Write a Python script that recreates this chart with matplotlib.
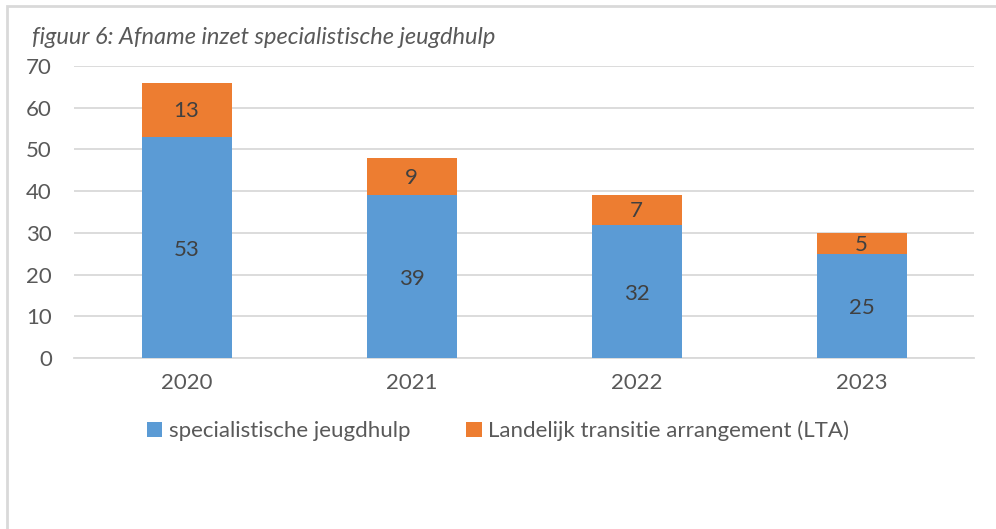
import numpy as np
import matplotlib.pyplot as plt
from matplotlib.patches import Rectangle

# Data
years = ['2020', '2021', '2022', '2023']
specialistisch = [53, 39, 32, 25]
lta = [13, 9, 7, 5]

blue = '#5B9BD5'
orange = '#ED7D31'
text_grey = '#595959'
grid_grey = '#D9D9D9'

plt.rcParams['font.family'] = ['Lato', 'DejaVu Sans']
fs = 16

fig = plt.figure(figsize=(9.96, 5.29), dpi=100)
ax = fig.add_axes([74 / 996, 1 - 358 / 529, 900 / 996, 292 / 529])

# light frame around the whole chart
fig.patches.append(Rectangle((7 / 996, -0.1), 1.2, 1.1 - 6 / 529, transform=fig.transFigure,
                             fill=False, edgecolor='#D9D9D9', linewidth=2))

x = np.arange(len(years))
b1 = ax.bar(x, specialistisch, width=0.4, color=blue, label='specialistische jeugdhulp', zorder=3)
b2 = ax.bar(x, lta, width=0.4, bottom=specialistisch, color=orange,
            label='Landelijk transitie arrangement (LTA)', zorder=3)

for i in range(len(years)):
    ax.text(x[i], specialistisch[i] / 2 - 0.6, str(specialistisch[i]), ha='center', va='center',
            fontsize=fs, color='#404040', zorder=4)
    ax.text(x[i], specialistisch[i] + lta[i] / 2 - 0.3, str(lta[i]), ha='center', va='center',
            fontsize=fs, color='#404040', zorder=4)

ax.set_xlim(-0.5, len(years) - 0.5)
ax.set_ylim(0, 70)
ax.set_yticks(range(0, 71, 10))
ax.set_xticks(x)
ax.set_xticklabels(years)
ax.yaxis.grid(True, color=grid_grey, linewidth=1.3, zorder=0)
ax.set_axisbelow(True)
for s in ['top', 'right', 'left']:
    ax.spines[s].set_visible(False)
ax.spines['bottom'].set_color(grid_grey)
ax.spines['bottom'].set_linewidth(1.3)
ax.tick_params(axis='both', length=0, labelsize=fs, labelcolor=text_grey)
ax.tick_params(axis='y', pad=16)
ax.tick_params(axis='x', pad=11)

fig.text(32 / 996, 1 - 37 / 529, 'figuur 6: Afname inzet specialistische jeugdhulp',
         fontsize=17, style='italic', color=text_grey, va='center', ha='left')

fig.legend(handles=[b1, b2], loc='center', bbox_to_anchor=(0.5, 1 - 431 / 529), ncol=2,
           frameon=False, fontsize=fs, labelcolor=text_grey, handlelength=0.7,
           handleheight=0.7, handletextpad=0.3, columnspacing=2.5)

fig.savefig('out.png', dpi=100)
